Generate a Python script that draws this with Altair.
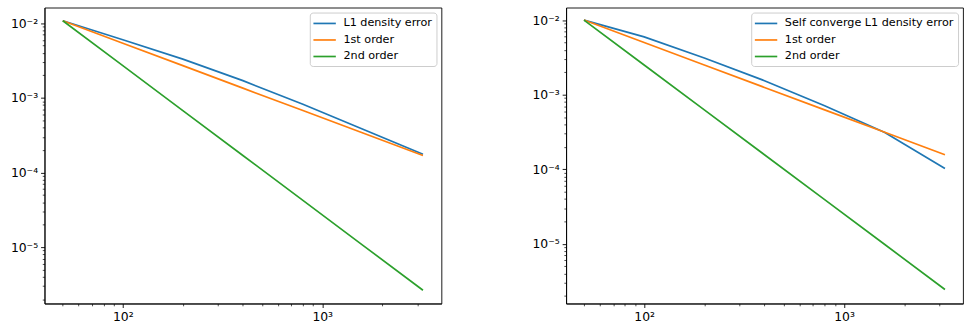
import altair as alt
import pandas as pd

# ---- data ----
n_cells = [50, 100, 200, 400, 800, 1600, 3200]

left_names = ["L1 density error", "1st order", "2nd order"]
left_l1 = [0.0108, 0.0060, 0.0033, 0.00170, 0.00082, 0.00038, 0.000175]
left_first = [0.0108, 0.0054, 0.0027, 0.00135, 0.000675, 0.0003375, 0.00016875]
left_second = [0.0108, 0.0027, 0.000675, 0.00016875, 4.22e-05, 1.055e-05, 2.64e-06]

right_names = ["Self converge L1 density error", "1st order", "2nd order"]
right_l1 = [0.0100, 0.00595, 0.0031, 0.00154, 0.00071, 0.00031, 0.000102]
right_first = [0.0100, 0.0050, 0.0025, 0.00125, 0.000625, 0.0003125, 0.00015625]
right_second = [0.0100, 0.0025, 0.000625, 0.00015625, 3.906e-05, 9.77e-06, 2.44e-06]

colors = ["#1f77b4", "#ff7f0e", "#2ca02c"]

x_major = [100, 1000]
y_major = [1e-6, 1e-5, 1e-4, 1e-3, 1e-2]
x_minor = [m * d for d in (10, 100, 1000) for m in range(2, 10)]
y_minor = [m * d for d in (1e-7, 1e-6, 1e-5, 1e-4, 1e-3) for m in range(2, 10)]

FONT = "DejaVu Sans"

label_expr = ("'10' + (round(log(datum.value)/LN10) < 0 ? '\u207b' : '') + "
              "['\u2070','\u00b9','\u00b2','\u00b3','\u2074','\u2075','\u2076','\u2077','\u2078','\u2079']"
              "[abs(round(log(datum.value)/LN10))]")


def make_df(names, series):
    rows = []
    for name, vals in zip(names, series):
        for n, v in zip(n_cells, vals):
            rows.append({"n": n, "err": v, "series": name})
    return pd.DataFrame(rows)


def major_axis(orient, values):
    return alt.Axis(orient=orient, values=values, labelExpr=label_expr, grid=False,
                    tickSize=4, tickWidth=0.9, tickColor="black",
                    domain=True, domainColor="black", domainWidth=0.9,
                    labelFont=FONT, labelFontSize=12.5, labelColor="black",
                    labelPadding=3, title=None, labelFlush=False, labelOverlap=False)


def minor_axis(orient, values):
    return alt.Axis(orient=orient, values=values, labels=False, grid=False,
                    tickSize=2.3, tickWidth=0.7, tickColor="black",
                    domain=False, title=None)


def panel(names, series, xdom, ydom, width):
    df = make_df(names, series)
    xs = alt.Scale(type="log", domain=xdom, nice=False)
    ys = alt.Scale(type="log", domain=ydom, nice=False)
    lines = alt.Chart(df).mark_line(strokeWidth=1.7).encode(
        x=alt.X("n:Q", scale=xs, axis=major_axis("bottom", x_major)),
        y=alt.Y("err:Q", scale=ys, axis=major_axis("left", y_major)),
        color=alt.Color("series:N",
                        scale=alt.Scale(domain=names, range=colors),
                        legend=alt.Legend(
                            title=None, orient="top-right", offset=5, padding=4,
                            strokeColor="#cccccc", fillColor="rgba(255,255,255,0.85)",
                            cornerRadius=3, symbolType="M-2,0H2", symbolSize=128,
                            symbolStrokeWidth=1.7, symbolOffset=4, labelOffset=12,
                            labelFont=FONT, labelFontSize=11.3, labelColor="black",
                            rowPadding=3.7, labelLimit=400)),
        order=alt.Order("n:Q"),
    )
    minor = alt.Chart(df).mark_point(opacity=0).encode(
        x=alt.X("n:Q", scale=xs, axis=minor_axis("bottom", x_minor)),
        y=alt.Y("err:Q", scale=ys, axis=minor_axis("left", y_minor)),
    )
    return alt.layer(lines, minor).resolve_axis(x="independent", y="independent").properties(
        width=width, height=299)


left = panel(left_names, [left_l1, left_first, left_second],
             [40.5, 3960], [1.75e-06, 1.62e-02], 401)
right = panel(right_names, [right_l1, right_first, right_second],
              [40.7, 3940], [1.58e-06, 1.47e-02], 401)

chart = alt.hconcat(left, right, spacing=126, bounds="flush").resolve_scale(
    color="independent"
).properties(
    padding={"left": 10, "top": 5, "right": 0, "bottom": 0}
).configure(background="white").configure_view(stroke="black", strokeWidth=0.9)

chart.save("out.html", embed_options={"renderer": "svg", "actions": False})
